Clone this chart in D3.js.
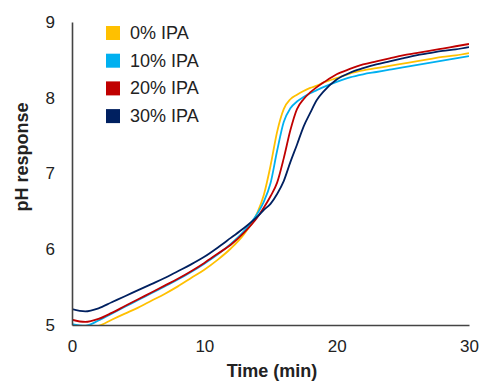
<!DOCTYPE html>
<html>
<head>
<meta charset="utf-8">
<script src="https://d3js.org/d3.v7.min.js"></script>
<style>
  body { margin: 0; background: #fff; }
  text { font-family: "Liberation Sans", Arial, sans-serif; fill: #222; }
</style>
</head>
<body>
<script>
// time points (min)
var times = [0,1,2,3,4,5,6,7,8,9,10,11,12,13,14,14.5,15,15.5,16,16.5,17,17.5,18,18.5,19,20,21,22,23,24,25,26,27,28,29,30];

// pH readings per IPA concentration
var ipa0  = [4.98,4.97,4.99,5.07,5.15,5.23,5.32,5.41,5.51,5.62,5.73,5.86,6.01,6.20,6.48,6.72,7.10,7.55,7.85,7.98,8.04,8.09,8.13,8.16,8.20,8.26,8.32,8.36,8.39,8.42,8.45,8.48,8.51,8.54,8.56,8.59];
var ipa10 = [5.01,4.99,5.06,5.15,5.24,5.33,5.42,5.51,5.60,5.70,5.81,5.93,6.07,6.24,6.47,6.63,6.87,7.30,7.68,7.86,7.95,8.01,8.06,8.10,8.14,8.21,8.27,8.31,8.34,8.37,8.40,8.43,8.46,8.49,8.52,8.55];
var ipa20 = [5.07,5.04,5.08,5.16,5.25,5.34,5.43,5.52,5.61,5.71,5.82,5.94,6.06,6.22,6.42,6.55,6.70,6.88,7.20,7.57,7.85,7.98,8.07,8.14,8.20,8.31,8.38,8.44,8.48,8.52,8.56,8.59,8.62,8.65,8.68,8.71];
var ipa30 = [5.21,5.18,5.22,5.30,5.38,5.46,5.54,5.62,5.71,5.80,5.90,6.02,6.15,6.28,6.43,6.52,6.60,6.73,6.90,7.15,7.38,7.62,7.80,7.97,8.08,8.24,8.33,8.39,8.44,8.48,8.52,8.56,8.59,8.62,8.64,8.67];

var seriesNames = ["0% IPA", "10% IPA", "20% IPA", "30% IPA"];
var seriesColors = ["#FFC000", "#00B0F0", "#C00000", "#002060"];
var xTicks = [0, 10, 20, 30];
var yTicks = [5, 6, 7, 8, 9];

var width = 481, height = 381;

var svg = d3.select("body").append("svg")
    .attr("width", width)
    .attr("height", height);

var x = d3.scaleLinear().domain([0, 30]).range([72, 469]);
var y = d3.scaleLinear().domain([5, 9]).range([325, 22]);

// clip so lines stay inside the plot
svg.append("clipPath").attr("id", "plot")
  .append("rect")
    .attr("x", x(0)).attr("y", y(9))
    .attr("width", x(30) - x(0)).attr("height", y(5) - y(9));

var allSeries = [ipa0, ipa10, ipa20, ipa30].map(function(vals, i) {
  return {
    name: seriesNames[i],
    color: seriesColors[i],
    values: vals.map(function(v, j) { return {t: times[j], ph: v}; })
  };
});

var line = d3.line()
    .x(function(d) { return x(d.t); })
    .y(function(d) { return y(d.ph); })
    .curve(d3.curveMonotoneX);

svg.append("g")
    .attr("clip-path", "url(#plot)")
  .selectAll("path")
  .data(allSeries)
  .enter().append("path")
    .attr("d", function(d) { return line(d.values); })
    .style("fill", "none")
    .style("stroke", function(d) { return d.color; })
    .style("stroke-width", 1.8);

// axes
var xAxis = svg.append("g")
    .attr("transform", "translate(0," + y(5) + ")")
    .call(d3.axisBottom(x).tickValues(xTicks).tickFormat(d3.format("d")).tickSize(0).tickPadding(15));

var yAxis = svg.append("g")
    .attr("transform", "translate(" + x(0) + ",0)")
    .call(d3.axisLeft(y).tickValues(yTicks).tickFormat(d3.format("d")).tickSize(0).tickPadding(17));

[xAxis, yAxis].forEach(function(g) {
  g.select(".domain").style("stroke", "#444").style("stroke-width", 1.6);
  g.selectAll("text")
    .style("font-size", "17px")
    .style("font-family", "'Liberation Sans', Arial, sans-serif")
    .style("fill", "#222");
});

// axis titles
svg.append("text")
    .attr("x", 272).attr("y", 377)
    .attr("text-anchor", "middle")
    .style("font-size", "18px")
    .style("font-weight", "bold")
    .text("Time (min)");

svg.append("text")
    .attr("transform", "translate(28,157) rotate(-90)")
    .attr("text-anchor", "middle")
    .style("font-size", "18px")
    .style("font-weight", "bold")
    .text("pH response");

// legend
var legend = svg.selectAll(".legend")
    .data(allSeries)
  .enter().append("g")
    .attr("class", "legend")
    .attr("transform", function(d, i) { return "translate(106," + (26 + i * 27.7) + ")"; });

legend.append("rect")
    .attr("width", 14).attr("height", 14)
    .style("fill", function(d) { return d.color; });

legend.append("text")
    .attr("x", 24).attr("y", 13)
    .style("font-size", "18px")
    .text(function(d) { return d.name; });
</script>
</body>
</html>
